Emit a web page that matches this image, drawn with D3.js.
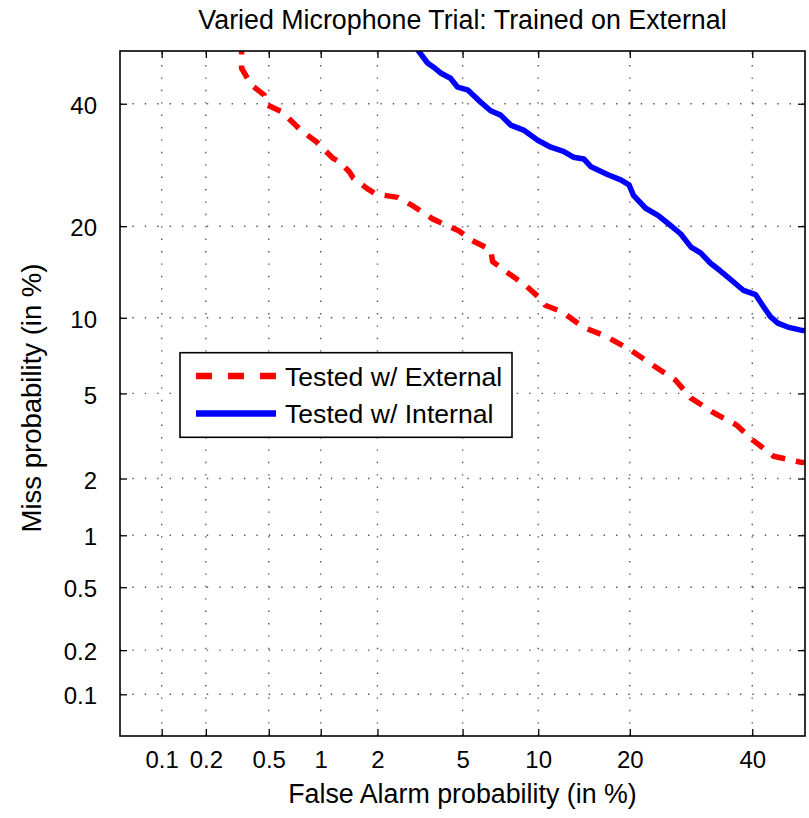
<!DOCTYPE html>
<html>
<head>
<meta charset="utf-8">
<script src="https://cdn.jsdelivr.net/npm/d3@7"></script>
<style>
  html, body { margin: 0; padding: 0; background: #fff; }
  svg { display: block; font-family: "Liberation Sans", Arial, Helvetica, sans-serif; }
</style>
</head>
<body>
<svg id="chart" width="809" height="818"></svg>
<script>
// DET curve: probabilities in percent, plotted on normal-deviate (probit) axes
const tickPct = [0.1, 0.2, 0.5, 1, 2, 5, 10, 20, 40];
const tickLabels = ["0.1", "0.2", "0.5", "1", "2", "5", "10", "20", "40"];
const axisRangePct = [0.05, 50];

const seriesNames = ["Tested w/ External", "Tested w/ Internal"];
const seriesColors = ["#ff0000", "#0000ff"];

// Tested w/ External
const extFa = [0.34, 0.34, 0.37, 0.40, 0.47, 0.48, 0.60, 0.77, 0.95, 1.02, 1.16, 1.27, 1.43, 1.50,
  1.76, 1.96, 2.52, 3.00, 3.68, 4.43, 4.81, 5.51, 6.55, 6.67, 7.52, 8.90, 10.2, 10.6, 12.2, 14.3,
  16.9, 20.1, 23.7, 26.7, 29.2, 33.2, 37.1, 40.1, 44.0, 49.2, 50];
const extMiss = [52, 46.7, 44.8, 43.3, 41.6, 39.9, 38.5, 35.2, 33.1, 32.1, 30.4, 29.7, 28.1, 27.1,
  25.5, 24.6, 24.1, 22.8, 21.0, 19.9, 19.4, 18.1, 17.0, 15.6, 14.5, 13.1, 11.7, 11.1, 10.5, 9.24,
  8.54, 7.54, 6.44, 5.69, 4.77, 4.09, 3.62, 3.08, 2.58, 2.41, 2.40];

// Tested w/ Internal
const intFa = [3.10, 3.17, 3.49, 3.72, 4.00, 4.43, 4.76, 5.25, 5.96, 6.55, 7.19, 7.87, 8.82, 9.96,
  11.1, 12.3, 13.3, 14.4, 15.2, 17.2, 18.8, 19.9, 20.5, 22.2, 24.0, 25.5, 27.5, 29.2, 30.8, 32.5,
  34.3, 35.7, 38.4, 40.6, 42.2, 43.4, 44.8, 46.7, 49.2, 50];
const intMiss = [52, 50, 47.7, 46.9, 45.8, 44.8, 43.1, 42.6, 40.3, 38.7, 37.9, 36.1, 35.2, 33.4,
  32.2, 31.5, 30.5, 30.2, 28.9, 27.6, 26.8, 26.0, 24.4, 22.5, 21.5, 20.4, 19.0, 17.3, 16.6, 15.4,
  14.5, 13.8, 12.5, 12.1, 10.9, 10.1, 9.56, 9.24, 9.0, 8.95];

// Inverse of the standard normal CDF (Acklam's rational approximation)
function probit(p) {
  const a = [-3.969683028665376e+01, 2.209460984245205e+02, -2.759285104469687e+02,
    1.383577518672690e+02, -3.066479806614716e+01, 2.506628277459239e+00];
  const b = [-5.447609879822406e+01, 1.615858368580409e+02, -1.556989798598866e+02,
    6.680131188771972e+01, -1.328068155288572e+01];
  const c = [-7.784894002430293e-03, -3.223964580411365e-01, -2.400758277161838e+00,
    -2.549671010633128e+00, 4.374664141464968e+00, 2.938163982698783e+00];
  const d = [7.784695709041462e-03, 3.224671290700398e-01, 2.445134137142996e+00,
    3.754408661907416e+00];
  const plow = 0.02425, phigh = 1 - plow;
  if (p < plow) {
    const q = Math.sqrt(-2 * Math.log(p));
    return (((((c[0]*q+c[1])*q+c[2])*q+c[3])*q+c[4])*q+c[5]) / ((((d[0]*q+d[1])*q+d[2])*q+d[3])*q+1);
  }
  if (p <= phigh) {
    const q = p - 0.5, r = q * q;
    return (((((a[0]*r+a[1])*r+a[2])*r+a[3])*r+a[4])*r+a[5])*q / (((((b[0]*r+b[1])*r+b[2])*r+b[3])*r+b[4])*r+1);
  }
  const q = Math.sqrt(-2 * Math.log(1 - p));
  return -(((((c[0]*q+c[1])*q+c[2])*q+c[3])*q+c[4])*q+c[5]) / ((((d[0]*q+d[1])*q+d[2])*q+d[3])*q+1);
}
const dev = pct => probit(pct / 100);

const svg = d3.select("#chart");
const plotLeft = 120, plotRight = 805, plotTop = 51, plotBottom = 736;

const x = d3.scaleLinear().domain(axisRangePct.map(dev)).range([plotLeft, plotRight]);
const y = d3.scaleLinear().domain(axisRangePct.map(dev)).range([plotBottom, plotTop]);

svg.append("defs").append("clipPath").attr("id", "plotClip")
  .append("rect").attr("x", plotLeft).attr("y", plotTop)
  .attr("width", plotRight - plotLeft).attr("height", plotBottom - plotTop);

// dotted grid
const grid = svg.append("g").attr("stroke", "#555").attr("stroke-width", 1.4)
  .attr("stroke-dasharray", "1.4,11").attr("fill", "none");
grid.selectAll("line.v").data(tickPct).join("line").attr("class", "v")
  .attr("x1", d => x(dev(d))).attr("x2", d => x(dev(d)))
  .attr("y1", plotBottom).attr("y2", plotTop);
grid.selectAll("line.h").data(tickPct).join("line").attr("class", "h")
  .attr("y1", d => y(dev(d))).attr("y2", d => y(dev(d)))
  .attr("x1", plotLeft).attr("x2", plotRight);

// curves
const line = d3.line().x(d => x(dev(d[0]))).y(d => y(dev(d[1])));
const curves = svg.append("g").attr("clip-path", "url(#plotClip)").attr("fill", "none");
curves.append("path")
  .datum(extFa.map((f, i) => [f, extMiss[i]]))
  .attr("d", line).attr("stroke", seriesColors[0]).attr("stroke-width", 5.5)
  .attr("stroke-dasharray", "14,11").attr("stroke-linejoin", "round");
curves.append("path")
  .datum(intFa.map((f, i) => [f, intMiss[i]]))
  .attr("d", line).attr("stroke", seriesColors[1]).attr("stroke-width", 5.5)
  .attr("stroke-linejoin", "round").attr("stroke-linecap", "round");

// axes with inward ticks on all four sides
const tv = tickPct.map(dev);
const fmt = (d, i) => tickLabels[i];
function styleAxis(g) {
  g.select(".domain").remove();
  g.selectAll(".tick line").attr("stroke", "#000").attr("stroke-width", 1.3);
  g.selectAll(".tick text").attr("fill", "#000").attr("font-size", 24);
}
svg.append("g").attr("transform", `translate(0,${plotBottom})`)
  .call(d3.axisBottom(x).tickValues(tv).tickFormat(fmt).tickSize(-7).tickPadding(15))
  .call(styleAxis);
svg.append("g").attr("transform", `translate(${plotLeft},0)`)
  .call(d3.axisLeft(y).tickValues(tv).tickFormat(fmt).tickSize(-7).tickPadding(23))
  .call(styleAxis)
  .selectAll(".tick text").attr("dy", "0.4em");
svg.append("g").attr("transform", `translate(0,${plotTop})`)
  .call(d3.axisTop(x).tickValues(tv).tickFormat("").tickSize(-7))
  .call(styleAxis);
svg.append("g").attr("transform", `translate(${plotRight},0)`)
  .call(d3.axisRight(y).tickValues(tv).tickFormat("").tickSize(-7))
  .call(styleAxis);

svg.append("rect").attr("x", plotLeft).attr("y", plotTop)
  .attr("width", plotRight - plotLeft).attr("height", plotBottom - plotTop)
  .attr("fill", "none").attr("stroke", "#000").attr("stroke-width", 1.6);

// titles
svg.append("text").attr("x", (plotLeft + plotRight) / 2).attr("y", 29)
  .attr("text-anchor", "middle").attr("font-size", 26.8)
  .text("Varied Microphone Trial: Trained on External");
svg.append("text").attr("x", (plotLeft + plotRight) / 2).attr("y", 803)
  .attr("text-anchor", "middle").attr("font-size", 26.8)
  .text("False Alarm probability (in %)");
svg.append("text").attr("transform", `translate(41,398) rotate(-90)`)
  .attr("text-anchor", "middle").attr("font-size", 27.5)
  .text("Miss probability (in %)");

// legend
const lg = svg.append("g");
lg.append("rect").attr("x", 180).attr("y", 352.7).attr("width", 332).attr("height", 84.6)
  .attr("fill", "#fff").attr("stroke", "#000").attr("stroke-width", 1.6);
const rows = [{ y: 376, dash: "16,16" }, { y: 413.5, dash: null }];
rows.forEach((r, i) => {
  lg.append("line").attr("x1", 196).attr("x2", 276).attr("y1", r.y).attr("y2", r.y)
    .attr("stroke", seriesColors[i]).attr("stroke-width", 6.5)
    .attr("stroke-dasharray", r.dash);
  lg.append("text").attr("x", 285).attr("y", r.y + 9.7).attr("font-size", 26.6)
    .text(seriesNames[i]);
});
</script>
</body>
</html>
